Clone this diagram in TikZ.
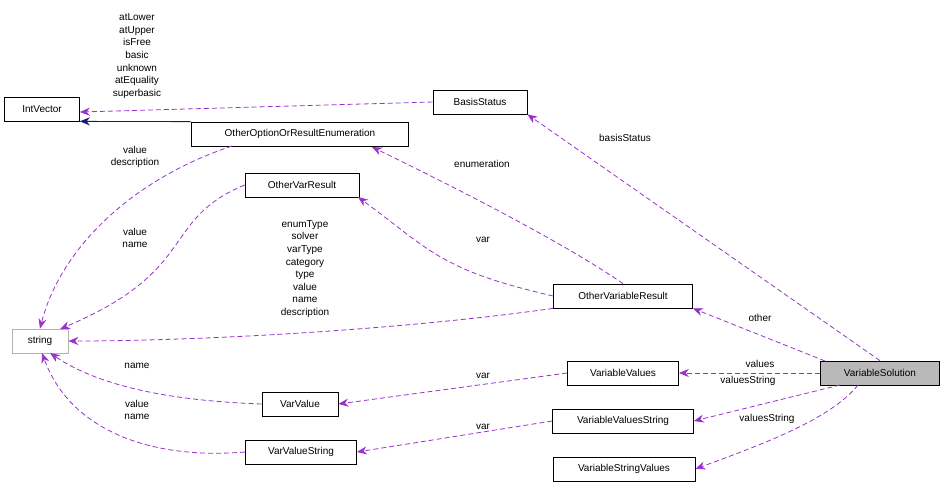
\documentclass[tikz,border=0pt]{standalone}
\usepackage{fontspec}
\setmainfont{Liberation Sans}
\usetikzlibrary{arrows.meta}
\begin{document}
\begin{tikzpicture}[x=1pt,y=-1pt,font=\fontsize{10}{12.6}\selectfont,
 box/.style={draw=black,fill=white,minimum height=24pt,inner sep=3pt,anchor=center,line width=0.7pt},
 dep/.style={draw={rgb,255:red,153;green,50;blue,204},line width=0.8pt,dash pattern=on 5pt off 3pt,-{Stealth[length=10pt,width=8pt]}},
 inh/.style={draw={rgb,255:red,25;green,25;blue,112},line width=0.8pt,-{Stealth[length=10pt,width=8pt]}},
 lab/.style={align=center,inner sep=0pt}]
\useasboundingbox (0,0) rectangle (944,493);
\node[box,minimum width=75pt] (iv) at (42,109) {IntVector};
\node[box,minimum width=94pt] (bs) at (480,102) {BasisStatus};
\node[box,minimum width=217pt] (oe) at (300,134) {OtherOptionOrResultEnumeration};
\node[box,minimum width=114pt] (ovr) at (302,185) {OtherVarResult};
\node[box,draw=gray!60,minimum width=56pt] (str) at (40,341) {string};
\node[box,minimum width=139pt] (ovar) at (623,296) {OtherVariableResult};
\node[box,minimum width=111pt] (vv) at (623,373) {VariableValues};
\node[box,fill=gray!55,minimum width=119pt] (vs) at (880,373) {VariableSolution};
\node[box,minimum width=76pt] (val) at (300,404) {VarValue};
\node[box,minimum width=141pt] (vvs) at (623,421) {VariableValuesString};
\node[box,minimum width=111pt] (vals) at (301,452) {VarValueString};
\node[box,minimum width=142pt] (vsv) at (624,469) {VariableStringValues};

\draw[dep] (bs.west) -- (iv.east|-0,112);
\node[lab] at (137,56) {atLower\\atUpper\\isFree\\basic\\unknown\\atEquality\\superbasic};
\draw[inh] (oe.north west) -- (iv.south east);
\draw[dep] (vs.north) -- (bs.south east);
\node[lab] at (625,138) {basisStatus};
\draw[dep] (ovar.north) .. controls (560,240) and (440,180) .. (372,147);
\node[lab] at (482,164) {enumeration};
\draw[dep] (ovar.west) .. controls (440,270) and (430,250) .. (358,197);
\node[lab] at (483,240) {var};
\draw[dep] (232,146) .. controls (130,180) and (60,250) .. (str.north);
\node[lab] at (135,157) {value\\description};
\draw[dep] (ovr.west) .. controls (160,220) and (200,270) .. (60,329);
\node[lab] at (135,238) {value\\name};
\draw[dep] (ovar.south west) .. controls (400,330) and (200,341) .. (str.east);
\node[lab] at (305,269) {enumType\\solver\\varType\\category\\type\\value\\name\\description};
\draw[dep] (val.west) .. controls (150,400) and (90,380) .. (50,353);
\node[lab] at (137,366) {name};
\draw[dep] (vals.west) .. controls (150,460) and (70,430) .. (42,353);
\node[lab] at (137,410) {value\\name};
\draw[dep] (825,361) -- (ovar.south east);
\node[lab] at (760,318) {other};
\draw[dep] (vs.west) -- (vv.east);
\node[lab] at (760,364) {values};
\draw[dep] (840,385) -- (vvs.east);
\node[lab] at (748,381) {valuesString};
\draw[dep] (858,385) .. controls (830,420) and (760,445) .. (vsv.east);
\node[lab] at (767,419) {valuesString};
\draw[dep] (vv.west) -- (val.east);
\node[lab] at (483,376) {var};
\draw[dep] (vvs.west) -- (vals.east);
\node[lab] at (483,427) {var};
\end{tikzpicture}
\end{document}
